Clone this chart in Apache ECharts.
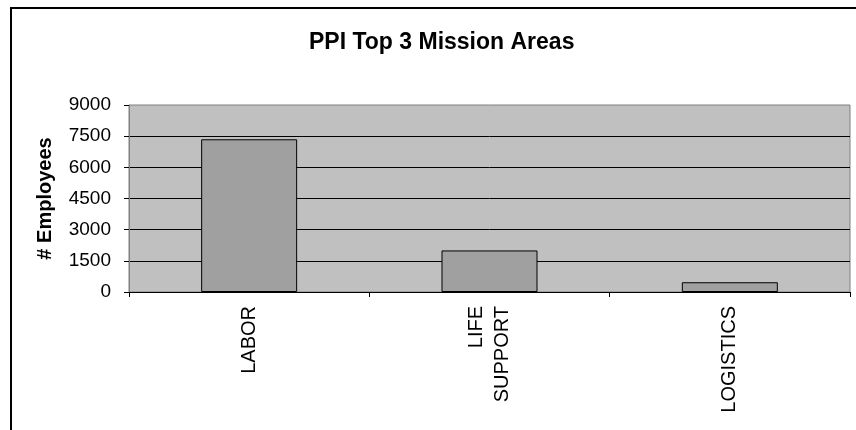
<!DOCTYPE html>
<html lang="en">
<head>
    <meta charset="UTF-8">
    <title>PPI Top 3 Mission Areas</title>
    <script src="https://cdn.jsdelivr.net/npm/echarts@6/dist/echarts.min.js"></script>
    <style>
        html, body { margin: 0; padding: 0; background: #fff; }
        .frame {
            position: absolute; left: 10px; top: 7px; width: 860px; height: 440px;
            border-left: 2px solid #000; border-top: 2px solid #000;
        }
        #main { position: absolute; left: 0; top: 0; width: 856px; height: 430px; }
    </style>
</head>
<body>
    <div class="frame"></div>
    <div id="main"></div>
    <script>
        // data
        var categories = ['LABOR', 'LIFE\nSUPPORT', 'LOGISTICS'];
        var employees = [7350, 2000, 470];

        var myChart = echarts.init(document.getElementById('main'));
        var option = {
            title: {
                text: 'PPI Top 3 Mission Areas',
                left: 304,
                top: 26,
                textStyle: {
                    fontFamily: 'Liberation Sans',
                    fontSize: 23,
                    fontWeight: 'bold',
                    color: '#000'
                }
            },
            grid: {
                left: 129,
                right: 6,
                top: 105,
                bottom: 138,
                show: true,
                backgroundColor: '#c0c0c0',
                borderColor: '#808080',
                borderWidth: 1
            },
            xAxis: {
                type: 'category',
                data: categories,
                axisLine: { lineStyle: { color: '#000', width: 1 } },
                axisTick: { show: true, length: 5, lineStyle: { color: '#000' } },
                axisLabel: {
                    rotate: 90,
                    margin: 14,
                    interval: 0,
                    color: '#000',
                    fontFamily: 'Liberation Sans',
                    fontSize: 20,
                    lineHeight: 26
                }
            },
            yAxis: {
                type: 'value',
                min: 0,
                max: 9000,
                interval: 1500,
                name: '# Employees',
                nameLocation: 'middle',
                nameGap: 74,
                nameTextStyle: {
                    fontFamily: 'Liberation Sans',
                    fontSize: 20,
                    fontWeight: 'bold',
                    color: '#000'
                },
                axisLine: { show: true, lineStyle: { color: '#808080' } },
                axisTick: { show: true, length: 5, lineStyle: { color: '#000' } },
                axisLabel: {
                    margin: 18,
                    color: '#000',
                    fontFamily: 'Liberation Sans',
                    fontSize: 19,
                    formatter: function (value) {
                        return String(value);
                    }
                },
                splitLine: {
                    show: true,
                    showMaxLine: false,
                    lineStyle: { color: '#000', width: 1 }
                }
            },
            series: [
                {
                    name: '# Employees',
                    type: 'bar',
                    barWidth: 96,
                    data: employees,
                    itemStyle: {
                        color: '#a0a0a0',
                        borderColor: '#000',
                        borderWidth: 1
                    }
                }
            ]
        };
        myChart.setOption(option);
    </script>
</body>
</html>
